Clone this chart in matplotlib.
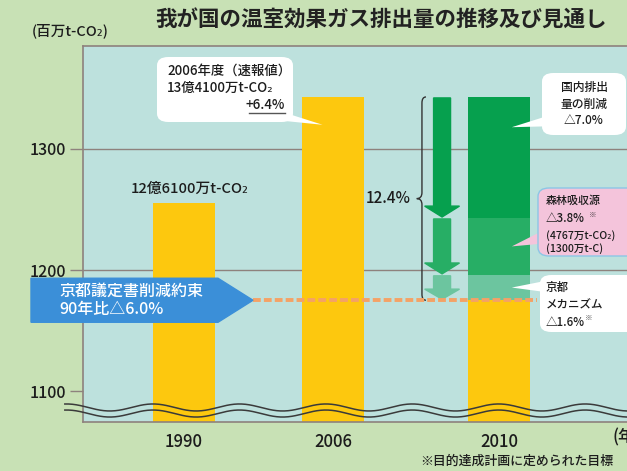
import numpy as np
import matplotlib.pyplot as plt
import matplotlib.transforms as mtransforms
from matplotlib.patches import FancyBboxPatch, Polygon, PathPatch
from matplotlib.path import Path
from matplotlib.lines import Line2D

plt.rcParams['font.family'] = ['Noto Sans CJK JP', 'DejaVu Sans']
plt.rcParams['font.weight'] = 'medium'

title = '我が国の温室効果ガス排出量の推移及び見通し'
years = ['1990', '2006', '2010']
emissions = [1255, 1343]          # 1990, 2006 (as drawn)
target_2010 = 1175                # 京都議定書削減約束 90年比-6.0%
cuts = [21, 47, 100]              # 京都メカニズム, 森林吸収源, 国内排出量の削減 (bottom -> top)
cut_colors = ['#6cc59f', '#27ae65', '#06a04e']
yticks = [1100, 1200, 1300]

W, H = 627, 471
GREEN_BG = '#c8e1b5'
BLUE_BG = '#bde1dd'
YELLOW = '#fdc80e'
EDGE = '#8e827d'
TXT = '#1c1c1c'

fig = plt.figure(figsize=(W / 100, H / 100), dpi=100, facecolor=GREEN_BG)


def fp(x, y):
    # image pixel -> figure fraction
    return x / W, 1 - y / H


ax = fig.add_axes([83 / W, 1 - 422 / H, (680 - 83) / W, (422 - 46) / H])
ax.set_facecolor(BLUE_BG)
ax.set_xlim(-0.678, 3.329)
ax.set_ylim(1074.4, 1385.1)
xpos = np.array([0, 1, 2.115])
bw = 0.41

ax.hlines(yticks[1:], -0.678, 3.329, color=EDGE, lw=1, zorder=1)
ax.bar(xpos[:2], emissions, width=bw, color=YELLOW, zorder=2)
ax.bar(xpos[2], target_2010, width=bw + 0.005, color=YELLOW, zorder=2)
bottoms = target_2010 + np.concatenate([[0], np.cumsum(cuts)[:-1]])
ax.bar([xpos[2]] * 3, cuts, bottom=bottoms, width=bw + 0.005, color=cut_colors, zorder=2)

# reduction arrows
axx = 1.732
sw, hw = 0.057, 0.117
for b, c, col in zip(bottoms, cuts, cut_colors):
    top = b + c - 0.8
    tip = b + 0.8
    neck = tip + min(9, c * 0.4)
    verts = [(axx - sw, top), (axx + sw, top), (axx + sw, neck), (axx + hw, neck),
             (axx, tip), (axx - hw, neck), (axx - sw, neck)]
    ax.add_patch(Polygon(verts, closed=True, color=col, zorder=3))

# brace
bx = 1.597
ytop = target_2010 + sum(cuts)
ybot = target_2010
ymid = (ytop + ybot) / 2
verts = [(bx + 0.027, ytop), (bx, ytop), (bx, ytop - 5),
         (bx, ymid + 5), (bx, ymid), (bx - 0.035, ymid),
         (bx, ymid), (bx, ymid - 5),
         (bx, ybot + 5), (bx, ybot), (bx + 0.027, ybot)]
codes = [Path.MOVETO, Path.CURVE3, Path.CURVE3,
         Path.LINETO, Path.CURVE3, Path.CURVE3,
         Path.CURVE3, Path.CURVE3,
         Path.LINETO, Path.CURVE3, Path.CURVE3]
ax.add_patch(PathPatch(Path(verts, codes), fc='none', ec='#333333', lw=1, zorder=3))
ax.text(1.37, ymid, '12.4%', ha='center', va='center', fontsize=11, color=TXT, zorder=3)

# target line + blue arrow
ax.plot([0.463, 2.369], [target_2010] * 2, color='#f4a266', lw=2.8,
        ls=(0, (2, 0.8)), zorder=4)
bt = mtransforms.blended_transform_factory(fig.transFigure, ax.transData)
half = 18.2
ax.add_patch(Polygon([(31 / W, target_2010 + half), (218 / W, target_2010 + half),
                      (253 / W, target_2010), (218 / W, target_2010 - half),
                      (31 / W, target_2010 - half)],
                     closed=True, transform=bt, color='#3b8fd8', clip_on=False, zorder=5))
ax.text(59 / W, target_2010, '京都議定書削減約束\n90年比△6.0%', transform=bt, color='white',
        fontsize=11.5, va='center', ha='left', linespacing=1.15, zorder=6)

# wavy break lines
xw = np.linspace(-0.8, 3.4, 500)
wave = 2.9 * np.cos(2 * np.pi * (xw + 0.208) / 0.58)
for c in [1086.4, 1081.4]:
    ax.plot(xw, c + wave, color='#3a3a3a', lw=1.1, zorder=4, clip_on=False)

# axes styling
for s in ['left', 'bottom', 'top']:
    ax.spines[s].set_color(EDGE)
    ax.spines[s].set_linewidth(1.2)
ax.spines['right'].set_visible(False)
ax.set_yticks(yticks)
ax.tick_params(axis='y', length=9.4, width=1, color=EDGE, labelsize=11.5,
               labelcolor=TXT, pad=3)
ax.set_xticks(xpos, years)
ax.tick_params(axis='x', length=0, labelsize=12, labelcolor=TXT, pad=8)

# texts outside
fig.text(*fp(381, 20), title, ha='center', va='center', fontsize=15.5,
         fontweight='bold', color='#222222')
fig.text(*fp(70, 31), '(百万t-CO₂)', ha='center', va='center', fontsize=10.5, color=TXT)
fig.text(*fp(612, 437), '(年度)', ha='left', va='center', fontsize=12, color=TXT)
fig.text(*fp(517, 461), '※目的達成計画に定められた目標', ha='center', va='center',
         fontsize=9.3, color=TXT)
ax.text(xpos[0] + 0.04, 1267, '12億6100万t-CO₂', ha='center', va='center',
        fontsize=10.6, color=TXT)


def callout(box, base, tip, fc, ec='none'):
    x0, y0, x1, y1 = box
    tx, ty = fig.transFigure.inverted().transform(ax.transData.transform(tip))
    fig.add_artist(Polygon([fp(*base[0]), fp(*base[1]), (tx, ty)], closed=True,
                           transform=fig.transFigure, fc=fc, ec='none', zorder=6))
    fx0, fy1 = fp(x0, y1)
    fx1, fy0 = fp(x1, y0)
    fig.add_artist(FancyBboxPatch((fx0, fy1), fx1 - fx0, fy0 - fy1,
                                  boxstyle='round,pad=0,rounding_size=0.018',
                                  transform=fig.transFigure, fc=fc, ec=ec, lw=1, zorder=7))


def label(x, y, s, size, ha='left'):
    fig.text(*fp(x, y), s, ha=ha, va='center', fontsize=size, color=TXT, zorder=8)


# 2006 callout
callout((157, 57, 293, 122), [(270, 108), (275, 120)],
        (xpos[1] - 0.07, 1320), 'white')
label(167, 71, '2006年度（速報値）', 9.6)
label(167, 88, '13億4100万t-CO₂', 9.6)
label(285, 105, '+6.4%', 9.6, ha='right')
fig.add_artist(Line2D([249 / W, 285 / W], [1 - 113 / H] * 2, color='#555555', lw=1, zorder=8))

# domestic reduction
callout((542, 73, 626, 135), [(560, 112), (560, 126)],
        (xpos[2] + 0.085, bottoms[2] + 0.75 * cuts[2]), 'white')
fig.text(*fp(584, 104), '国内排出\n量の削減\n△7.0%', ha='center', va='center',
         fontsize=8.5, color=TXT, linespacing=1.35, zorder=8)

# forest sinks
callout((538, 188, 645, 256), [(560, 222), (560, 242)],
        (xpos[2] + 0.085, bottoms[1] + 0.5 * cuts[1]), '#f4c4db', ec='#8cc6e6')
label(546, 200, '森林吸収源', 7.9)
label(546, 219, '△3.8%', 8.3)
label(589, 215, '※', 5.5)
label(546, 236, '(4767万t-CO₂)', 7.6)
label(546, 249, '(1300万t-C)', 7.6)

# Kyoto mechanism
callout((540, 275, 645, 332), [(560, 278), (560, 294)],
        (xpos[2] + 0.085, bottoms[0] + 0.5 * cuts[0]), 'white')
label(546, 287, '京都', 8.3)
label(546, 305, 'メカニズム', 8.3)
label(546, 322, '△1.6%', 8.3)
label(585, 318, '※', 5.5)

fig.savefig('out.png', dpi=100, facecolor=GREEN_BG)
